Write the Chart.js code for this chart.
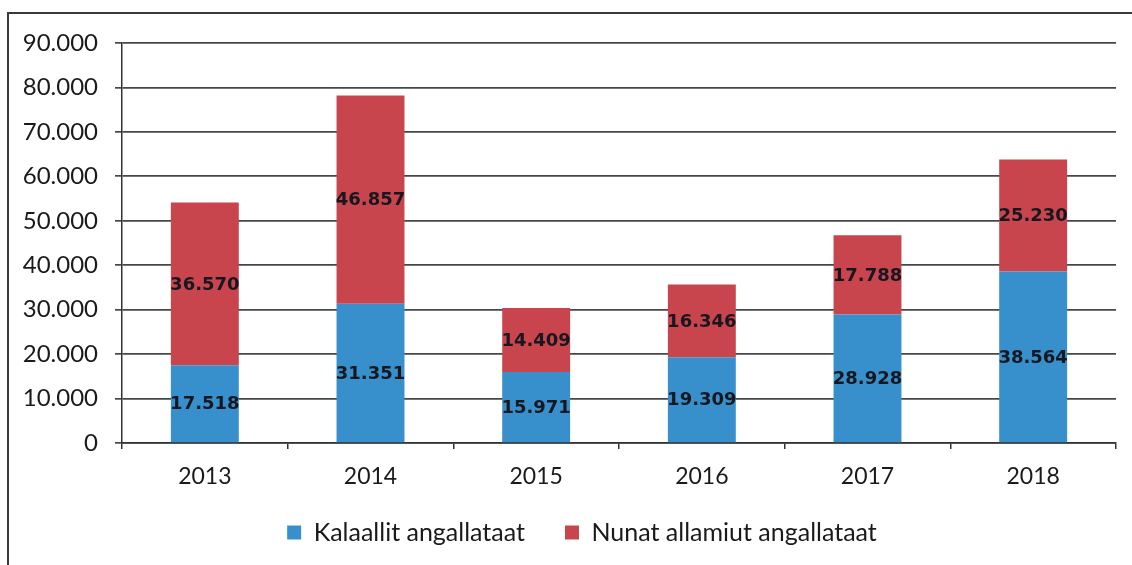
<!DOCTYPE html>
<html>
<head>
<meta charset="utf-8">
<script src="https://cdn.jsdelivr.net/npm/chart.js@4"></script>
<style>
  html, body { margin: 0; padding: 0; background: #fff; }
  #frame { position: absolute; left: 7px; top: 12px; width: 1140px; height: 600px;
           border-left: 2px solid #3a3a3a; border-top: 2px solid #3a3a3a; }
  #wrap { position: absolute; left: 0; top: 0; width: 1132px; height: 565px; }
</style>
</head>
<body>
<div id="frame"></div>
<div id="wrap"><canvas id="chart" width="1132" height="565"></canvas></div>
<script>
const years = ['2013', '2014', '2015', '2016', '2017', '2018'];
const kalaallit = [17518, 31351, 15971, 19309, 28928, 38564];
const nunatAllamiut = [36570, 46857, 14409, 16346, 17788, 25230];
const seriesNames = ['Kalaallit angallataat', 'Nunat allamiut angallataat'];

function fmt(v) {
    return String(v).replace(/\B(?=(\d{3})+(?!\d))/g, '.');
}

// draws the value in the middle of every bar segment
const segmentLabels = {
    id: 'segmentLabels',
    afterDatasetsDraw(chart) {
        const ctx = chart.ctx;
        ctx.save();
        ctx.font = 'bold 18px "DejaVu Sans"';
        ctx.fillStyle = '#17171f';
        ctx.textAlign = 'center';
        ctx.textBaseline = 'middle';
        chart.data.datasets.forEach((ds, i) => {
            chart.getDatasetMeta(i).data.forEach((bar, j) => {
                const mid = (bar.y + bar.base) / 2;
                ctx.fillText(fmt(ds.data[j]), bar.x, mid + 1);
            });
        });
        ctx.restore();
    }
};

// legend in the original sits a bit right of the canvas centre and closer to the axis
const legendShift = {
    id: 'legendShift',
    afterLayout(chart) {
        const lg = chart.legend;
        lg.left += 24;
        lg.right += 24;
        lg.top -= 11;
        lg.bottom -= 11;
    }
};

Chart.defaults.font.family = 'Lato, "Open Sans", sans-serif';
Chart.defaults.color = '#1a1a1a';

new Chart(document.querySelector('#chart'), {
    type: 'bar',
    data: {
        labels: years,
        datasets: [{
            label: seriesNames[0],
            data: kalaallit,
            backgroundColor: '#3790cb'
        }, {
            label: seriesNames[1],
            data: nunatAllamiut,
            backgroundColor: '#c8454d'
        }]
    },
    options: {
        responsive: false,
        animation: false,
        devicePixelRatio: 1,
        layout: { padding: { top: 43, left: 0, right: 16, bottom: -1 } },
        datasets: {
            bar: { categoryPercentage: 1, barPercentage: 0.41 }
        },
        scales: {
            x: {
                stacked: true,
                grid: { drawOnChartArea: false, drawTicks: true, tickLength: 6, color: '#333', lineWidth: 1.5 },
                border: { color: '#333', width: 1.5 },
                ticks: { font: { size: 23 }, padding: 14, color: '#1a1a1a' },
                afterFit(scale) { scale.height = 48; }
            },
            y: {
                stacked: true,
                min: 0,
                max: 90000,
                grid: { color: '#474747', lineWidth: 1.7, tickLength: 7 },
                border: { color: '#333', width: 1.5 },
                ticks: {
                    stepSize: 10000,
                    font: { size: 24 },
                    padding: 17,
                    color: '#1a1a1a',
                    callback: v => fmt(v)
                },
                afterFit(scale) { scale.width = 122; }
            }
        },
        plugins: {
            legend: {
                position: 'bottom',
                labels: {
                    font: { size: 25 },
                    boxWidth: 14,
                    boxHeight: 14,
                    padding: 40,
                    color: '#1a1a1a'
                }
            },
            tooltip: { enabled: false }
        }
    },
    plugins: [segmentLabels, legendShift]
});
</script>
</body>
</html>
